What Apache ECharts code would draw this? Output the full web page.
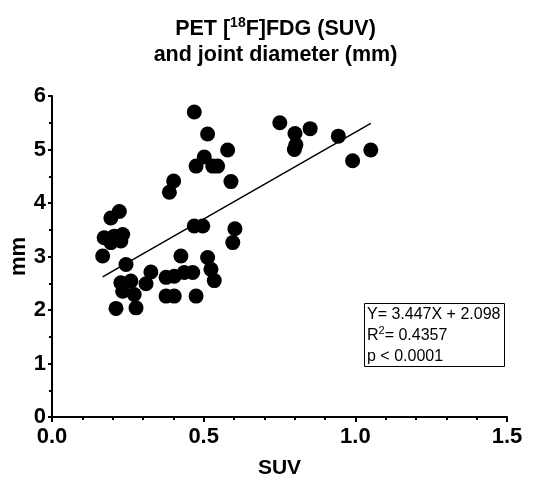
<!DOCTYPE html>
<html>
<head>
<meta charset="utf-8">
<script src="https://cdn.jsdelivr.net/npm/echarts@6/dist/echarts.min.js"></script>
<style>
  html, body { margin: 0; padding: 0; background: #fff; }
  #chart { width: 551px; height: 479px; }
</style>
</head>
<body>
<div id="chart"></div>
<script>
// Data
var suv = [0.469, 0.513, 0.579, 0.502, 0.475, 0.530, 0.546, 0.590, 0.401, 0.387,
           0.751, 0.801, 0.804, 0.799, 0.851, 0.944, 0.991, 1.051,
           0.469, 0.497, 0.603, 0.596,
           0.222, 0.194, 0.172, 0.205, 0.233, 0.194, 0.227, 0.167, 0.244,
           0.425, 0.513, 0.524, 0.535, 0.326, 0.310, 0.376, 0.403, 0.436, 0.464,
           0.227, 0.260, 0.233, 0.271, 0.376, 0.403, 0.475, 0.211, 0.277];
var mm  = [5.70, 5.29, 4.99, 4.86, 4.69, 4.69, 4.69, 4.40, 4.41, 4.20,
           5.50, 5.30, 5.09, 5.00, 5.39, 5.25, 4.79, 4.99,
           3.57, 3.57, 3.52, 3.26,
           3.84, 3.72, 3.35, 3.38, 3.41, 3.26, 3.29, 3.01, 2.85,
           3.01, 2.98, 2.76, 2.55, 2.71, 2.49, 2.61, 2.63, 2.70, 2.70,
           2.51, 2.54, 2.35, 2.29, 2.26, 2.26, 2.26, 2.03, 2.04];
// Regression line endpoints as drawn in the picture
var fitX = [0.167, 1.051];
var fitY = [2.62, 5.49];
var xTicks = [0.0, 0.5, 1.0, 1.5];
var yTicks = [0, 1, 2, 3, 4, 5, 6];
var statLines = ['Y= 3.447X + 2.098', 'R{sup|2}= 0.4357', 'p < 0.0001'];

var FONT = 'Liberation Sans, Arial, sans-serif';
var points = suv.map(function (x, i) { return [x, mm[i]]; });
var fitLine = fitX.map(function (x, i) { return [x, fitY[i]]; });

var chart = echarts.init(document.getElementById('chart'), null, { renderer: 'canvas' });
chart.setOption({
  backgroundColor: '#ffffff',
  animation: false,
  title: [{
    text: 'PET [{sup|18}F]FDG (SUV)\nand joint diameter (mm)',
    left: 'center',
    top: 11,
    textStyle: {
      fontFamily: FONT, fontSize: 21.5, fontWeight: 'bold', color: '#000', lineHeight: 26,
      rich: {
        sup: { fontFamily: FONT, fontSize: 14, fontWeight: 'bold', color: '#000', verticalAlign: 'top', lineHeight: 14, padding: [0, 0, 8, 0] }
      }
    }
  }, {
    text: statLines.join('\n'),
    left: 364,
    top: 303,
    padding: [1, 4, 0, 3],
    borderColor: '#000',
    borderWidth: 1,
    textStyle: {
      fontFamily: FONT, fontSize: 16, fontWeight: 'normal', color: '#000', lineHeight: 21,
      rich: {
        sup: { fontFamily: FONT, fontSize: 11, color: '#000', verticalAlign: 'top', lineHeight: 11, padding: [0, 0, 6, 0] }
      }
    }
  }],
  grid: { left: 52, right: 44, top: 96, bottom: 62, containLabel: false, outerBoundsMode: 'none' },
  xAxis: {
    type: 'value',
    min: xTicks[0], max: xTicks[xTicks.length - 1], interval: 0.5,
    name: 'SUV',
    nameLocation: 'middle',
    nameGap: 41,
    nameMoveOverlap: false,
    nameTextStyle: { fontFamily: FONT, fontSize: 21, fontWeight: 'bold', color: '#000', verticalAlign: 'top' },
    axisLine: { show: true, lineStyle: { color: '#000', width: 2 } },
    axisTick: { show: true, inside: false, length: 5, lineStyle: { color: '#000', width: 2 } },
    minorTick: { show: true, splitNumber: 5, length: 3, lineStyle: { color: '#000', width: 2 } },
    axisLabel: {
      margin: 9, fontFamily: FONT, fontSize: 22, fontWeight: 'bold', color: '#000',
      formatter: function (v) { return v.toFixed(1); }
    },
    splitLine: { show: false },
    minorSplitLine: { show: false }
  },
  yAxis: {
    type: 'value',
    min: yTicks[0], max: yTicks[yTicks.length - 1], interval: 1,
    name: 'mm',
    nameLocation: 'middle',
    nameGap: 22,
    nameMoveOverlap: false,
    nameRotate: 90,
    nameTextStyle: { fontFamily: FONT, fontSize: 22, fontWeight: 'bold', color: '#000' },
    axisLine: { show: true, lineStyle: { color: '#000', width: 2 } },
    axisTick: { show: true, inside: false, length: 4, lineStyle: { color: '#000', width: 2 } },
    minorTick: { show: true, splitNumber: 2, length: 3, lineStyle: { color: '#000', width: 2 } },
    axisLabel: { margin: 6, fontFamily: FONT, fontSize: 22, fontWeight: 'bold', color: '#000' },
    splitLine: { show: false },
    minorSplitLine: { show: false }
  },
  series: [{
    type: 'scatter',
    data: points,
    symbol: 'circle',
    symbolSize: 15,
    itemStyle: { color: '#000', opacity: 1 },
    z: 3
  }, {
    type: 'line',
    data: fitLine,
    showSymbol: false,
    symbol: 'none',
    lineStyle: { color: '#000', width: 1.5 },
    z: 2
  }]
});
</script>
</body>
</html>
